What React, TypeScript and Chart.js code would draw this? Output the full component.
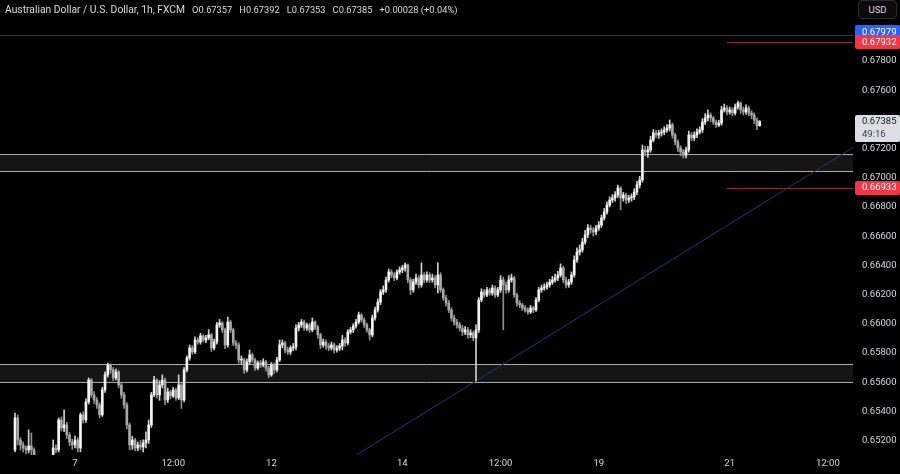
import React, { useEffect, useRef } from 'react';
import { Chart, registerables } from 'chart.js';

Chart.register(...registerables);

// ---- Data (hourly AUD/USD candles, index = bar number) ----
const OPENS = [
  0.65136, 0.65355, 0.65204, 0.65170, 0.65149, 0.65136, 0.65163, 0.65136, 0.65081, 0.65053,
  0.65033, 0.65046, 0.65026, 0.65053, 0.65081, 0.65149, 0.65136, 0.65341, 0.65286, 0.65307,
  0.65238, 0.65190, 0.65170, 0.65204, 0.65149, 0.65376, 0.65341, 0.65464, 0.65615, 0.65513,
  0.65478, 0.65444, 0.65376, 0.65547, 0.65650, 0.65718, 0.65684, 0.65629, 0.65670, 0.65581,
  0.65513, 0.65444, 0.65307, 0.65170, 0.65204, 0.65149, 0.65170, 0.65156, 0.65184, 0.65204,
  0.65307, 0.65513, 0.65615, 0.65513, 0.65581, 0.65615, 0.65478, 0.65533, 0.65506, 0.65547,
  0.65492, 0.65581, 0.65478, 0.65684, 0.65766, 0.65834, 0.65807, 0.65889, 0.65875, 0.65917,
  0.65889, 0.65903, 0.65924, 0.65834, 0.65875, 0.65992, 0.66005, 0.65958, 0.65855, 0.66012,
  0.65958, 0.65868, 0.65855, 0.65752, 0.65752, 0.65684, 0.65739, 0.65787, 0.65752, 0.65697,
  0.65732, 0.65718, 0.65739, 0.65697, 0.65650, 0.65718, 0.65684, 0.65752, 0.65855, 0.65868,
  0.65821, 0.65807, 0.65834, 0.65841, 0.65971, 0.65992, 0.66012, 0.65971, 0.65992, 0.65958,
  0.66012, 0.65978, 0.65924, 0.65855, 0.65875, 0.65848, 0.65834, 0.65855, 0.65821, 0.65834,
  0.65848, 0.65889, 0.65868, 0.65944, 0.65958, 0.65985, 0.66012, 0.66060, 0.66026, 0.65992,
  0.65958, 0.65924, 0.66040, 0.66095, 0.66149, 0.66218, 0.66232, 0.66300, 0.66355, 0.66334,
  0.66314, 0.66355, 0.66369, 0.66382, 0.66403, 0.66300, 0.66232, 0.66286, 0.66314, 0.66266,
  0.66334, 0.66300, 0.66334, 0.66300, 0.66314, 0.66266, 0.66334, 0.66232, 0.66177, 0.66142,
  0.66095, 0.66040, 0.66012, 0.65992, 0.65971, 0.65944, 0.65958, 0.65924, 0.65937, 0.65903,
  0.65958, 0.66163, 0.66218, 0.66197, 0.66232, 0.66211, 0.66245, 0.66197, 0.66232, 0.66300,
  0.66266, 0.66232, 0.66300, 0.66314, 0.66197, 0.66142, 0.66129, 0.66108, 0.66095, 0.66081,
  0.66108, 0.66095, 0.66163, 0.66232, 0.66245, 0.66252, 0.66266, 0.66286, 0.66300, 0.66314,
  0.66334, 0.66382, 0.66300, 0.66266, 0.66286, 0.66334, 0.66437, 0.66492, 0.66506, 0.66560,
  0.66609, 0.66656, 0.66643, 0.66629, 0.66656, 0.66677, 0.66725, 0.66766, 0.66814, 0.66848,
  0.66862, 0.66882, 0.66930, 0.66862, 0.66882, 0.66848, 0.66862, 0.66869, 0.66903, 0.66951,
  0.66985, 0.67191, 0.67177, 0.67191, 0.67259, 0.67307, 0.67293, 0.67307, 0.67314, 0.67328,
  0.67341, 0.67362, 0.67293, 0.67245, 0.67204, 0.67177, 0.67156, 0.67191, 0.67293, 0.67273,
  0.67293, 0.67314, 0.67328, 0.67382, 0.67410, 0.67430, 0.67410, 0.67382, 0.67362, 0.67375,
  0.67465, 0.67478, 0.67451, 0.67465, 0.67444, 0.67485, 0.67512, 0.67465, 0.67451, 0.67478,
  0.67444, 0.67430, 0.67396, 0.67357,
];

const HIGHS = [
  0.65389, 0.65375, 0.65220, 0.65190, 0.65163, 0.65273, 0.65252, 0.65150, 0.65095, 0.65070,
  0.65060, 0.65065, 0.65075, 0.65098, 0.65204, 0.65170, 0.65355, 0.65362, 0.65410, 0.65325,
  0.65255, 0.65210, 0.65230, 0.65220, 0.65389, 0.65396, 0.65485, 0.65629, 0.65625, 0.65535,
  0.65495, 0.65460, 0.65565, 0.65670, 0.65732, 0.65725, 0.65700, 0.65690, 0.65680, 0.65595,
  0.65530, 0.65460, 0.65320, 0.65230, 0.65215, 0.65190, 0.65200, 0.65205, 0.65260, 0.65341,
  0.65530, 0.65640, 0.65625, 0.65610, 0.65650, 0.65630, 0.65560, 0.65545, 0.65565, 0.65560,
  0.65650, 0.65600, 0.65700, 0.65780, 0.65855, 0.65850, 0.65910, 0.65905, 0.65935, 0.65925,
  0.65920, 0.65960, 0.65935, 0.65895, 0.66010, 0.66030, 0.66015, 0.65970, 0.66046, 0.66025,
  0.65970, 0.65885, 0.65870, 0.65780, 0.65765, 0.65760, 0.65820, 0.65800, 0.65765, 0.65745,
  0.65750, 0.65760, 0.65750, 0.65710, 0.65735, 0.65730, 0.65770, 0.65889, 0.65889, 0.65880,
  0.65840, 0.65850, 0.65865, 0.65992, 0.66010, 0.66030, 0.66025, 0.66005, 0.66005, 0.66040,
  0.66020, 0.65990, 0.65935, 0.65895, 0.65890, 0.65865, 0.65875, 0.65870, 0.65850, 0.65865,
  0.65920, 0.65905, 0.65960, 0.65975, 0.66000, 0.66030, 0.66080, 0.66070, 0.66040, 0.66005,
  0.65970, 0.66060, 0.66115, 0.66170, 0.66235, 0.66260, 0.66320, 0.66375, 0.66370, 0.66350,
  0.66370, 0.66390, 0.66400, 0.66417, 0.66410, 0.66315, 0.66305, 0.66340, 0.66330, 0.66417,
  0.66350, 0.66355, 0.66350, 0.66340, 0.66330, 0.66417, 0.66350, 0.66245, 0.66195, 0.66160,
  0.66110, 0.66060, 0.66030, 0.66010, 0.65990, 0.65980, 0.65975, 0.65960, 0.65950, 0.65992,
  0.66180, 0.66240, 0.66235, 0.66250, 0.66245, 0.66265, 0.66260, 0.66250, 0.66330, 0.66320,
  0.66285, 0.66330, 0.66340, 0.66325, 0.66210, 0.66160, 0.66140, 0.66125, 0.66110, 0.66125,
  0.66120, 0.66180, 0.66250, 0.66265, 0.66275, 0.66285, 0.66305, 0.66325, 0.66340, 0.66360,
  0.66410, 0.66395, 0.66320, 0.66305, 0.66355, 0.66465, 0.66520, 0.66540, 0.66585, 0.66640,
  0.66680, 0.66675, 0.66660, 0.66675, 0.66700, 0.66745, 0.66790, 0.66835, 0.66870, 0.66885,
  0.66905, 0.66950, 0.66940, 0.66900, 0.66895, 0.66880, 0.66890, 0.66925, 0.66975, 0.67010,
  0.67225, 0.67215, 0.67215, 0.67285, 0.67330, 0.67325, 0.67325, 0.67335, 0.67350, 0.67365,
  0.67396, 0.67375, 0.67305, 0.67260, 0.67220, 0.67195, 0.67210, 0.67320, 0.67310, 0.67315,
  0.67335, 0.67350, 0.67405, 0.67440, 0.67465, 0.67445, 0.67420, 0.67395, 0.67395, 0.67490,
  0.67505, 0.67495, 0.67485, 0.67480, 0.67505, 0.67526, 0.67520, 0.67485, 0.67500, 0.67490,
  0.67460, 0.67445, 0.67410, 0.67392,
];

const LOWS = [
  0.65122, 0.65170, 0.65136, 0.65122, 0.65108, 0.65115, 0.65100, 0.65050, 0.65030, 0.65010,
  0.65015, 0.65005, 0.65010, 0.65040, 0.65070, 0.65115, 0.65122, 0.65265, 0.65260, 0.65215,
  0.65165, 0.65140, 0.65150, 0.65122, 0.65122, 0.65320, 0.65325, 0.65450, 0.65495, 0.65455,
  0.65420, 0.65355, 0.65365, 0.65530, 0.65635, 0.65660, 0.65610, 0.65615, 0.65560, 0.65490,
  0.65420, 0.65280, 0.65136, 0.65140, 0.65130, 0.65130, 0.65136, 0.65122, 0.65150, 0.65180,
  0.65290, 0.65500, 0.65490, 0.65475, 0.65560, 0.65445, 0.65460, 0.65485, 0.65495, 0.65475,
  0.65480, 0.65420, 0.65465, 0.65670, 0.65750, 0.65790, 0.65795, 0.65860, 0.65860, 0.65875,
  0.65870, 0.65890, 0.65810, 0.65820, 0.65860, 0.65975, 0.65940, 0.65830, 0.65840, 0.65940,
  0.65850, 0.65830, 0.65730, 0.65725, 0.65660, 0.65670, 0.65725, 0.65735, 0.65680, 0.65685,
  0.65700, 0.65705, 0.65675, 0.65630, 0.65640, 0.65660, 0.65670, 0.65740, 0.65835, 0.65800,
  0.65790, 0.65790, 0.65815, 0.65821, 0.65950, 0.65975, 0.65955, 0.65955, 0.65940, 0.65945,
  0.65960, 0.65900, 0.65830, 0.65840, 0.65825, 0.65815, 0.65820, 0.65800, 0.65805, 0.65815,
  0.65821, 0.65845, 0.65855, 0.65930, 0.65940, 0.65970, 0.66000, 0.66010, 0.65975, 0.65940,
  0.65889, 0.65910, 0.66025, 0.66080, 0.66130, 0.66200, 0.66215, 0.66285, 0.66315, 0.66295,
  0.66300, 0.66340, 0.66350, 0.66360, 0.66280, 0.66200, 0.66215, 0.66270, 0.66245, 0.66250,
  0.66280, 0.66285, 0.66280, 0.66285, 0.66245, 0.66211, 0.66215, 0.66160, 0.66120, 0.66075,
  0.66020, 0.65990, 0.65970, 0.65950, 0.65920, 0.65925, 0.65900, 0.65905, 0.65885, 0.65608,
  0.65940, 0.66150, 0.66180, 0.66185, 0.66195, 0.66195, 0.66180, 0.66185, 0.66215, 0.65958,
  0.66210, 0.66215, 0.66285, 0.66180, 0.66120, 0.66110, 0.66090, 0.66080, 0.66065, 0.66070,
  0.66075, 0.66085, 0.66150, 0.66215, 0.66230, 0.66235, 0.66250, 0.66270, 0.66285, 0.66295,
  0.66320, 0.66280, 0.66245, 0.66250, 0.66270, 0.66320, 0.66420, 0.66470, 0.66490, 0.66545,
  0.66590, 0.66620, 0.66600, 0.66610, 0.66640, 0.66660, 0.66710, 0.66750, 0.66800, 0.66830,
  0.66840, 0.66865, 0.66780, 0.66840, 0.66825, 0.66830, 0.66840, 0.66850, 0.66885, 0.66930,
  0.66970, 0.67150, 0.67140, 0.67175, 0.67245, 0.67275, 0.67270, 0.67285, 0.67295, 0.67310,
  0.67320, 0.67270, 0.67225, 0.67180, 0.67150, 0.67136, 0.67136, 0.67175, 0.67255, 0.67255,
  0.67275, 0.67300, 0.67310, 0.67365, 0.67390, 0.67385, 0.67365, 0.67345, 0.67350, 0.67360,
  0.67450, 0.67430, 0.67435, 0.67425, 0.67430, 0.67470, 0.67440, 0.67430, 0.67435, 0.67425,
  0.67405, 0.67370, 0.67330, 0.67353,
];

const CLOSES = [
  0.65355, 0.65204, 0.65170, 0.65149, 0.65136, 0.65163, 0.65136, 0.65081, 0.65053, 0.65033,
  0.65046, 0.65026, 0.65053, 0.65081, 0.65149, 0.65136, 0.65341, 0.65286, 0.65307, 0.65238,
  0.65190, 0.65170, 0.65204, 0.65149, 0.65376, 0.65341, 0.65464, 0.65615, 0.65513, 0.65478,
  0.65444, 0.65376, 0.65547, 0.65650, 0.65718, 0.65684, 0.65629, 0.65670, 0.65581, 0.65513,
  0.65444, 0.65307, 0.65170, 0.65204, 0.65149, 0.65170, 0.65156, 0.65184, 0.65204, 0.65307,
  0.65513, 0.65615, 0.65513, 0.65581, 0.65615, 0.65478, 0.65533, 0.65506, 0.65547, 0.65492,
  0.65581, 0.65478, 0.65684, 0.65766, 0.65834, 0.65807, 0.65889, 0.65875, 0.65917, 0.65889,
  0.65903, 0.65924, 0.65834, 0.65875, 0.65992, 0.66005, 0.65958, 0.65855, 0.66012, 0.65958,
  0.65868, 0.65855, 0.65752, 0.65752, 0.65684, 0.65739, 0.65787, 0.65752, 0.65697, 0.65732,
  0.65718, 0.65739, 0.65697, 0.65650, 0.65718, 0.65684, 0.65752, 0.65855, 0.65868, 0.65821,
  0.65807, 0.65834, 0.65841, 0.65971, 0.65992, 0.66012, 0.65971, 0.65992, 0.65958, 0.66012,
  0.65978, 0.65924, 0.65855, 0.65875, 0.65848, 0.65834, 0.65855, 0.65821, 0.65834, 0.65848,
  0.65889, 0.65868, 0.65944, 0.65958, 0.65985, 0.66012, 0.66060, 0.66026, 0.65992, 0.65958,
  0.65924, 0.66040, 0.66095, 0.66149, 0.66218, 0.66232, 0.66300, 0.66355, 0.66334, 0.66314,
  0.66355, 0.66369, 0.66382, 0.66403, 0.66300, 0.66232, 0.66286, 0.66314, 0.66266, 0.66334,
  0.66300, 0.66334, 0.66300, 0.66314, 0.66266, 0.66334, 0.66232, 0.66177, 0.66142, 0.66095,
  0.66040, 0.66012, 0.65992, 0.65971, 0.65944, 0.65958, 0.65924, 0.65937, 0.65903, 0.65958,
  0.66163, 0.66218, 0.66197, 0.66232, 0.66211, 0.66245, 0.66197, 0.66232, 0.66300, 0.66266,
  0.66232, 0.66300, 0.66314, 0.66197, 0.66142, 0.66129, 0.66108, 0.66095, 0.66081, 0.66108,
  0.66095, 0.66163, 0.66232, 0.66245, 0.66252, 0.66266, 0.66286, 0.66300, 0.66314, 0.66334,
  0.66382, 0.66300, 0.66266, 0.66286, 0.66334, 0.66437, 0.66492, 0.66506, 0.66560, 0.66609,
  0.66656, 0.66643, 0.66629, 0.66656, 0.66677, 0.66725, 0.66766, 0.66814, 0.66848, 0.66862,
  0.66882, 0.66930, 0.66862, 0.66882, 0.66848, 0.66862, 0.66869, 0.66903, 0.66951, 0.66985,
  0.67191, 0.67177, 0.67191, 0.67259, 0.67307, 0.67293, 0.67307, 0.67314, 0.67328, 0.67341,
  0.67362, 0.67293, 0.67245, 0.67204, 0.67177, 0.67156, 0.67191, 0.67293, 0.67273, 0.67293,
  0.67314, 0.67328, 0.67382, 0.67410, 0.67430, 0.67410, 0.67382, 0.67362, 0.67375, 0.67465,
  0.67478, 0.67451, 0.67465, 0.67444, 0.67485, 0.67512, 0.67465, 0.67451, 0.67478, 0.67444,
  0.67430, 0.67396, 0.67357, 0.67385,
];

// ---- Axes ----
const X_MIN = -5.5;
const X_MAX = 307.2;
const Y_MIN = 0.65101;
const Y_MAX = 0.68218;
const X_TICK_POS = [22, 58, 94, 142, 178, 214, 262, 298];
const X_TICK_LABELS = ['7', '12:00', '12', '14', '12:00', '19', '21', '12:00'];
const Y_TICKS = [0.652, 0.654, 0.656, 0.658, 0.66, 0.662, 0.664, 0.666, 0.668, 0.67, 0.672, 0.674, 0.676, 0.678];

// ---- Drawings ----
const ZONES = [
  [0.67047, 0.67164],
  [0.65601, 0.65725],
];
const BLUE_LEVEL = 0.67979;
const RED_LEVELS = [0.67932, 0.66933];
const RED_FROM = 261;
const TREND_X = [125.4, 307.2];
const TREND_Y = [0.65104, 0.67207];

const TITLE = 'Australian Dollar / U.S. Dollar, 1h, FXCM';
const COUNTDOWN = '49:16';

const FONT = 'Roboto, "Liberation Sans", sans-serif';
const UP = '#f2f2f2';
const DOWN = '#a8a8a8';
const UP_WICK = '#d0d0d0';
const DOWN_WICK = '#8e8e8e';
const TEXT = '#d6d8de';
const LINE_BLUE = '#25327a';
const LINE_RED = '#8e2b2b';

export default function App() {
  const ref = useRef<HTMLCanvasElement | null>(null);

  useEffect(() => {
    const canvas = ref.current;
    if (!canvas) return;
    const idx = CLOSES.map((_, i) => i);
    const wicks = idx.map((i) => ({ x: i, y: [LOWS[i], HIGHS[i]] }));
    const bodies = idx.map((i) => ({ x: i, y: [OPENS[i], CLOSES[i]] }));
    const colors = idx.map((i) => (CLOSES[i] >= OPENS[i] ? UP : DOWN));
    const wickColors = idx.map((i) => (CLOSES[i] >= OPENS[i] ? UP_WICK : DOWN_WICK));
    const last = CLOSES.length - 1;
    const lastClose = CLOSES[last];

    const overlay = {
      id: 'overlay',
      beforeDatasetsDraw(chart: any) {
        const { ctx, chartArea: a, scales } = chart;
        const x = scales.x;
        const y = scales.y;
        ctx.save();
        for (const [lo, hi] of ZONES) {
          const y1 = Math.round(y.getPixelForValue(hi));
          const y2 = Math.round(y.getPixelForValue(lo));
          ctx.fillStyle = '#151515';
          ctx.fillRect(a.left, y1, a.right - a.left, y2 - y1);
          ctx.strokeStyle = '#a9a9a9';
          ctx.lineWidth = 1;
          ctx.beginPath();
          ctx.moveTo(a.left, y1 + 0.5);
          ctx.lineTo(a.right, y1 + 0.5);
          ctx.moveTo(a.left, y2 + 0.5);
          ctx.lineTo(a.right, y2 + 0.5);
          ctx.stroke();
        }
        const yb = Math.round(y.getPixelForValue(BLUE_LEVEL)) + 0.5;
        ctx.strokeStyle = LINE_BLUE;
        ctx.lineWidth = 1;
        ctx.beginPath();
        ctx.moveTo(a.left, yb);
        ctx.lineTo(a.right, yb);
        ctx.stroke();
        ctx.strokeStyle = LINE_RED;
        const xr = x.getPixelForValue(RED_FROM);
        for (const lv of RED_LEVELS) {
          const yr = Math.round(y.getPixelForValue(lv)) + 0.5;
          ctx.beginPath();
          ctx.moveTo(xr, yr);
          ctx.lineTo(a.right, yr);
          ctx.stroke();
        }
        ctx.restore();
      },
      afterDraw(chart: any) {
        const { ctx, chartArea: a, scales } = chart;
        const y = scales.y;
        const W = chart.width;
        ctx.save();
        ctx.font = `9.5px ${FONT}`;
        ctx.textBaseline = 'middle';
        ctx.textAlign = 'left';
        // label box centred on the price, optionally nudged to avoid an overlapping label
        const label = (v: number, bg: string, fg: string, nudge: number) => {
          const py = y.getPixelForValue(v) + nudge;
          ctx.fillStyle = bg;
          ctx.beginPath();
          ctx.roundRect(a.right + 2, Math.round(py - 7), W - a.right - 2, 14, 2);
          ctx.fill();
          ctx.fillStyle = fg;
          ctx.fillText(v.toFixed(5), a.right + 9, py + 0.5);
        };
        label(BLUE_LEVEL, '#2962ff', '#ffffff', -2.5);
        for (const lv of RED_LEVELS) label(lv, '#f23645', '#ffffff', 0);
        // current price box
        const pc = y.getPixelForValue(lastClose);
        ctx.fillStyle = '#dcdee4';
        ctx.beginPath();
        ctx.roundRect(a.right + 2, Math.round(pc - 7), W - a.right - 2, 27, 2);
        ctx.fill();
        ctx.fillStyle = '#131722';
        ctx.fillText(lastClose.toFixed(5), a.right + 9, pc + 0.5);
        ctx.fillStyle = '#3a3d47';
        ctx.fillText(COUNTDOWN, a.right + 9, pc + 13);
        ctx.restore();
      },
    };

    const zeroPad = (s: any) => {
      s.paddingTop = 0;
      s.paddingBottom = 0;
      s.paddingLeft = 0;
      s.paddingRight = 0;
    };

    const chart = new Chart(canvas, {
      type: 'bar',
      data: {
        datasets: [
          {
            type: 'bar',
            label: 'body',
            data: bodies as any,
            backgroundColor: colors,
            barThickness: 2,
            minBarLength: 1,
            grouped: false,
            order: 0,
          } as any,
          {
            type: 'bar',
            label: 'wick',
            data: wicks as any,
            backgroundColor: wickColors,
            barThickness: 1,
            grouped: false,
            order: 1,
          } as any,
          {
            type: 'line',
            label: 'trend',
            data: TREND_X.map((v, i) => ({ x: v, y: TREND_Y[i] })) as any,
            borderColor: LINE_BLUE,
            borderWidth: 1,
            pointRadius: 0,
            tension: 0,
            order: 2,
          } as any,
        ],
      },
      options: {
        animation: false,
        responsive: false,
        maintainAspectRatio: false,
        devicePixelRatio: 1,
        layout: { padding: 0 },
        plugins: {
          legend: { display: false },
          tooltip: { enabled: false },
        },
        scales: {
          x: {
            type: 'linear',
            min: X_MIN,
            max: X_MAX,
            offset: false,
            grid: { display: false, drawTicks: false },
            border: { display: false },
            afterBuildTicks: (s: any) => {
              s.ticks = X_TICK_POS.map((v) => ({ value: v }));
            },
            afterFit: (s: any) => {
              s.height = 19;
              zeroPad(s);
            },
            ticks: {
              autoSkip: false,
              maxRotation: 0,
              padding: 3,
              color: TEXT,
              font: { family: FONT, size: 9.5 },
              callback: (_v: any, i: number) => X_TICK_LABELS[i] ?? '',
            },
          },
          y: {
            type: 'linear',
            position: 'right',
            min: Y_MIN,
            max: Y_MAX,
            grid: { display: false, drawTicks: false },
            border: { display: false },
            afterBuildTicks: (s: any) => {
              s.ticks = Y_TICKS.map((v) => ({ value: v }));
            },
            afterFit: (s: any) => {
              s.width = 47;
              zeroPad(s);
            },
            ticks: {
              padding: 9,
              color: TEXT,
              font: { family: FONT, size: 9.5 },
              callback: (v: any) => Number(v).toFixed(5),
            },
          },
        },
      } as any,
      plugins: [overlay],
    });
    return () => chart.destroy();
  }, []);

  const last = CLOSES.length - 1;
  const change = CLOSES[last] - CLOSES[last - 1];
  const pct = (change / CLOSES[last - 1]) * 100;
  const sign = change >= 0 ? '+' : '-';
  const gap = { marginLeft: 7, fontSize: 9.3 };

  return (
    <div
      style={{
        position: 'fixed',
        left: 0,
        top: 0,
        width: 900,
        height: 474,
        background: '#000000',
        overflow: 'hidden',
      }}
    >
      <canvas ref={ref} width={900} height={474} style={{ display: 'block', width: 900, height: 474 }} />
      <div
        style={{
          position: 'absolute',
          left: 5,
          top: 4,
          lineHeight: '12px',
          fontFamily: FONT,
          fontSize: 10.3,
          color: '#dcdcdc',
          whiteSpace: 'pre',
        }}
      >
        <span>{TITLE}</span>
        <span style={gap}>O{OPENS[last].toFixed(5)}</span>
        <span style={gap}>H{HIGHS[last].toFixed(5)}</span>
        <span style={gap}>L{LOWS[last].toFixed(5)}</span>
        <span style={gap}>C{CLOSES[last].toFixed(5)}</span>
        <span style={gap}>
          {sign}
          {Math.abs(change).toFixed(5)} ({sign}
          {Math.abs(pct).toFixed(2)}%)
        </span>
      </div>
      <div
        style={{
          position: 'absolute',
          left: 858,
          top: 0,
          width: 39,
          height: 19,
          boxSizing: 'border-box',
          border: '1px solid #2b2b2b',
          borderRadius: 4,
          background: '#0b0b0b',
          color: TEXT,
          fontFamily: FONT,
          fontSize: 9.5,
          lineHeight: '17px',
          textAlign: 'center',
        }}
      >
        USD
      </div>
    </div>
  );
}
